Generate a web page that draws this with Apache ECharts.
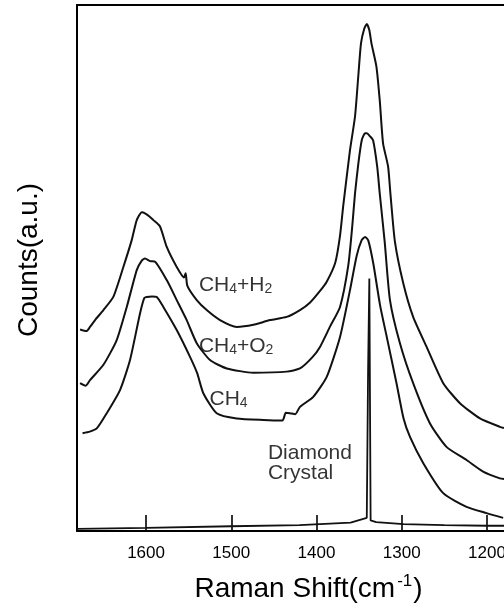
<!DOCTYPE html>
<html><head><meta charset="utf-8">
<script src="https://cdn.jsdelivr.net/npm/echarts@6/dist/echarts.min.js"></script>
<style>html,body{margin:0;padding:0;background:#fff}#c{width:504px;height:609px}</style>
</head><body><div id="c"></div>
<script>
// Tick labels of the Raman shift axis (cm-1)
const xTicks = [1600, 1500, 1400, 1300, 1200];

// CH4+H2 spectrum
const h2Shift  = [1677.4,1670,1665.7,1659.8,1650,1638.4,1626.6,1616.8,1610.9,1605,1601.2,1596,1591.4,1583.6,1575.7,1564,1555.5,1553.5,1551.5,1540.5,1528.8,1513.2,1493.6,1474.1,1454.5,1435,1419.4,1407.8,1396.1,1388,1378,1372.5,1368.5,1360.7,1354.8,1351,1347.8,1344,1341,1338,1335.5,1329.7,1325.8,1321.9,1316,1313.3,1308,1298.2,1286.6,1270.8,1251.3,1231.7,1208.2,1184.8,1180];
const h2Counts = [38.3,38.0,38.8,40.1,42.0,44.5,50.2,55.3,59.1,60.6,60.4,59.8,59.1,57.9,54.0,50.2,48.2,49.0,46.6,43.9,42.0,40.1,38.8,39.2,40.1,40.7,42.0,43.4,45.6,47.4,51.0,56.0,62.0,72.4,78.8,86.4,92.7,95.5,96.4,95.2,92.7,88.3,81.9,73.7,69.3,64.2,55.0,47.1,40.7,35.0,28.1,24.3,21.4,19.8,19.6];

// CH4+O2 spectrum
const o2Shift  = [1677.4,1671,1665.7,1650,1634.4,1622.6,1610.9,1605,1601.2,1595,1589.4,1575.7,1564,1552.3,1540.5,1524.9,1505.3,1474.1,1435,1419.4,1405,1395.9,1384,1372.4,1362.7,1358,1354.8,1350.8,1346.9,1343,1341,1337,1333.6,1328.8,1325.8,1320,1313.8,1302.1,1286.6,1267,1247.5,1224,1204.5,1184.8,1180];
const o2Counts = [28.1,27.6,28.7,31.6,36.3,42.6,49.6,51.4,51.8,51.3,51.2,47.7,43.9,40.1,35.7,32.5,30.9,30.1,30.3,30.9,33.0,35.0,38.9,42.6,50.5,58.0,64.2,70.0,74.3,75.6,75.6,75.0,74.3,69.3,64.2,55.0,43.9,35.7,28.1,20.5,16.0,13.5,11.3,10.0,9.9];

// CH4 spectrum
const ch4Shift  = [1674.5,1666,1657.8,1646.1,1630.5,1618.8,1607,1602,1599.2,1593,1587.4,1579.7,1564,1548.4,1540,1532.8,1517.1,1493.6,1462.4,1440,1436,1431.1,1425,1419.4,1403.8,1388,1372.4,1360.7,1352.9,1347,1343,1339.2,1333.3,1325.5,1317.7,1306,1298,1290.3,1274.7,1251.3,1224,1200.5,1181];
const ch4Counts = [18.6,18.9,19.5,22.4,26.8,32.5,41.4,44.3,44.5,44.6,44.5,42.6,38.2,33.1,30.0,26.2,22.4,21.4,21.1,21.0,22.5,22.4,22.2,23.6,25.5,29.3,36.9,45.8,52.3,55.3,55.9,55.2,50.8,43.0,37.0,28.0,21.5,17.9,12.9,7.2,4.6,3.4,2.5];

// Diamond crystal spectrum
const diaShift  = [1681,1600,1500,1420,1360,1341,1339.5,1338,1336.5,1330,1298,1250,1200,1180];
const diaCounts = [0.4,0.6,0.9,1.1,1.6,2.5,30.0,48.0,2.0,1.7,1.3,1.1,1.0,1.0];

// Curve annotations (anchor in data units: shift, counts)
const annotations = [
  { text: '{m|CH}{s|4}{m|+H}{s|2}', at: [1538, 47.8] },
  { text: '{m|CH}{s|4}{m|+O}{s|2}', at: [1538, 36.2] },
  { text: '{m|CH}{s|4}',            at: [1525.5, 26.2] },
  { text: '{d|Diamond}\n{d|Crystal}', at: [1457, 12.9] }
];

const FONT = 'Liberation Sans';
const pairs = (xs, ys) => xs.map((x, i) => [x, ys[i]]);
const lineSeries = (name, xs, ys) => ({
  name, type: 'line', data: pairs(xs, ys), showSymbol: false, smooth: 0.2,
  lineStyle: { color: '#111', width: 2 }, silent: true, animation: false
});

const chart = echarts.init(document.getElementById('c'), null, { renderer: 'canvas' });
chart.setOption({
  backgroundColor: '#fff',
  animation: false,
  grid: { left: 77, right: 0, top: 5, bottom: 78, containLabel: false, outerBoundsMode: 'none' },
  xAxis: [{
    type: 'value', inverse: true, min: 1180, max: 1681, position: 'bottom',
    axisLine: { show: true, onZero: false, lineStyle: { color: '#000', width: 2.2 } },
    axisTick: { show: true, inside: true, length: 16, customValues: xTicks, lineStyle: { color: '#000', width: 1.6 } },
    axisLabel: { show: true, customValues: xTicks, formatter: v => String(v), margin: 14, color: '#000', fontSize: 17, fontFamily: FONT },
    splitLine: { show: false },
    name: '{t|Raman Shift(cm}{sup|-1}{t|)}', nameLocation: 'middle', nameGap: 40,
    nameTextStyle: {
      color: '#000', fontFamily: FONT, padding: [0, 0, 0, 36],
      rich: {
        t: { fontSize: 28, fontFamily: FONT, lineHeight: 32, verticalAlign: 'bottom', color: '#000' },
        sup: { fontSize: 17, fontFamily: FONT, lineHeight: 17, verticalAlign: 'top', padding: [2, 1, 0, 2], color: '#000' }
      }
    }
  }, {
    type: 'value', inverse: true, min: 1180, max: 1681, position: 'top',
    axisLine: { show: true, onZero: false, lineStyle: { color: '#000', width: 2 } },
    axisTick: { show: false }, axisLabel: { show: false }, splitLine: { show: false }
  }],
  yAxis: {
    type: 'value', min: 0, max: 100,
    axisLine: { show: true, onZero: false, lineStyle: { color: '#000', width: 2 } },
    axisTick: { show: false }, axisLabel: { show: false }, splitLine: { show: false },
    name: 'Counts(a.u.)', nameLocation: 'middle', nameGap: 34,
    nameTextStyle: { color: '#000', fontSize: 28, fontFamily: FONT, padding: [0, 0, 0, 16] }
  },
  series: [
    lineSeries('CH4+H2', h2Shift, h2Counts),
    lineSeries('CH4+O2', o2Shift, o2Counts),
    lineSeries('CH4', ch4Shift, ch4Counts),
    Object.assign(lineSeries('Diamond', diaShift, diaCounts), { smooth: false, lineStyle: { color: '#111', width: 1.8 } }),
    {
      type: 'scatter', symbolSize: 0, silent: true, animation: false,
      data: annotations.map(a => ({ value: a.at, label: { formatter: a.text } })),
      label: {
        show: true, position: 'right', distance: 0, color: '#000',
        rich: {
          m: { fontSize: 21, fontFamily: FONT, lineHeight: 33, verticalAlign: 'bottom', color: '#000' },
          s: { fontSize: 14, fontFamily: FONT, lineHeight: 14, verticalAlign: 'bottom', color: '#000' },
          d: { fontSize: 21, fontFamily: FONT, lineHeight: 20, color: '#000' }
        }
      }
    }
  ]
});
</script>
</body></html>
